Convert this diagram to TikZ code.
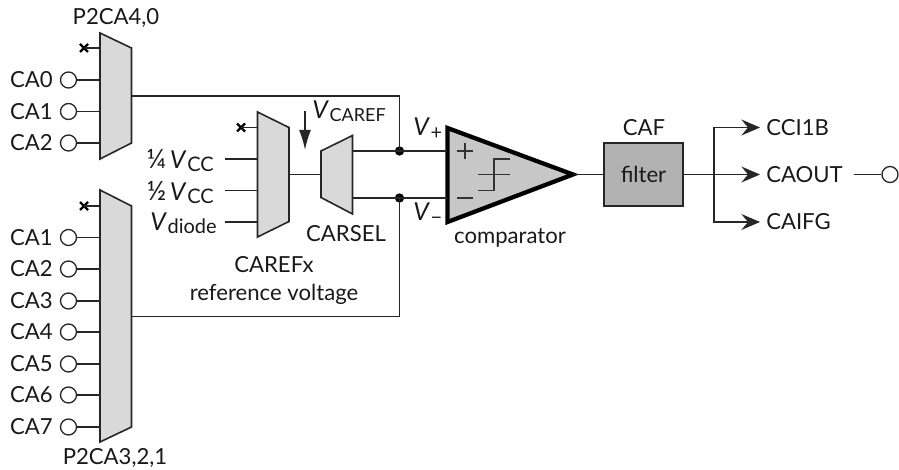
\documentclass[tikz,border=0pt]{standalone}
\usepackage{fontspec}
\setmainfont{Lato}
\usetikzlibrary{arrows.meta,shapes.misc}
\tikzset{
  wire/.style={line width=1.2pt,draw=black!85},
  mux/.style={line width=1.2pt,draw=black!85,fill=black!15,line join=miter},
  pinc/.style={circle,draw=black!85,line width=1pt,fill=white,minimum size=12pt,inner sep=0pt},
  nc/.style={cross out,draw=black,line width=1.8pt,minimum size=6pt,inner sep=0pt,outer sep=0pt},
  lbl/.style={font=\fontsize{16.6pt}{18pt}\selectfont,inner sep=0pt,text=black!90},
  arr/.style={wire,-{Stealth[length=14pt,width=12pt,inset=5pt]}},
  dot/.style={circle,fill=black,minimum size=7pt,inner sep=0pt},
}
\newcommand{\subtxt}[2][15pt]{\kern0.5pt{\fontsize{#1}{#1}\selectfont\raisebox{-0.3ex}{#2}}}
\newcommand{\bigv}{{\fontsize{18.5pt}{18.5pt}\selectfont\textit{V}}}
\begin{document}
\begin{tikzpicture}[x=0.75pt,y=-0.75pt]
\useasboundingbox (0,0) rectangle (899,470);
% multiplexers
\draw[mux] (100,33) -- (131.5,48) -- (131.5,143) -- (100,159) -- cycle;
\draw[mux] (100,190) -- (131.5,206) -- (131.5,427) -- (100,442) -- cycle;
\draw[mux] (257.5,112) -- (289,127.5) -- (289,221.5) -- (257.5,237) -- cycle;
\draw[mux] (321,151) -- (352.5,135.5) -- (352.5,214) -- (321,197.5) -- cycle;
% comparator and filter
\draw[line width=3.2pt,draw=black,fill=black!22,line join=miter] (447.5,128) -- (573,174.5) -- (447.5,222) -- cycle;
\node[draw=black!85,line width=1.2pt,fill=black!30,minimum width=59pt,minimum height=47pt,inner sep=0pt,lbl] (filter) at (643.5,174.5) {filter};
\coordinate (cmpout) at (573,174.5);
\draw[wire] (cmpout) -- (filter.west);
% comparator inner symbols
\draw[line width=0.8pt,draw=black!80] (457,151) -- (473,151) (465,143) -- (465,159) (457,198) -- (473,198);
\draw[line width=0.8pt,draw=black!80] (478,174.5) -- (510,174.5) (478,190.5) -- (494,190.5) -- (494,159) -- (510,159);
% mux 1 pins
\foreach \n/\y in {CA0/80,CA1/111.5,CA2/143}{
  \node[pinc] (a\n) at (68.5,\y) {};
  \node[lbl,anchor=east] at (53,\y) {\n};
  \coordinate (ai\n) at (100,\y);
  \draw[wire] (a\n) -- (ai\n);
}
% mux 2 pins
\foreach \n/\y in {CA1/237.5,CA2/269,CA3/301,CA4/332,CA5/364,CA6/395,CA7/427}{
  \node[pinc] (b\n) at (68.5,\y) {};
  \node[lbl,anchor=east] at (53,\y) {\n};
  \coordinate (bi\n) at (100,\y);
  \draw[wire] (b\n) -- (bi\n);
}
% no-connect stubs
\node[nc] (x1) at (84,48) {};
\node[nc] (x2) at (84,206) {};
\node[nc] (x3) at (241,127.5) {};
\coordinate (x1e) at (100,48);
\coordinate (x2e) at (100,206);
\coordinate (x3e) at (257.5,127.5);
\draw[wire] (x1.center) -- (x1e);
\draw[wire] (x2.center) -- (x2e);
\draw[wire] (x3.center) -- (x3e);
% reference inputs
\foreach \s/\y in {a/159,b/190.5,c/222}{
  \coordinate (r\s) at (225,\y);
  \coordinate (rr\s) at (257.5,\y);
  \draw[wire] (r\s) -- (rr\s);
}
\node[lbl,anchor=east] at (214,161) {{\fontsize{20pt}{20pt}\selectfont ¼}\,\bigv\subtxt{CC}};
\node[lbl,anchor=east] at (214,192.5) {{\fontsize{20pt}{20pt}\selectfont ½}\,\bigv\subtxt{CC}};
\node[lbl,anchor=east] at (217,223) {\bigv\subtxt{diode}};
% internal wiring
\coordinate (m3o) at (289,174.5);
\coordinate (m4i) at (321,174.5);
\draw[wire] (m3o) -- (m4i);
\node[dot] (jp) at (399.5,151) {};
\node[dot] (jm) at (399.5,198) {};
\coordinate (m4p) at (352.5,151);
\coordinate (m4m) at (352.5,198);
\coordinate (cp) at (447,151);
\coordinate (cm) at (447,198);
\draw[wire] (m4p) -- (jp.center) -- (cp);
\draw[wire] (m4m) -- (jm.center) -- (cm);
\coordinate (m1o) at (131.5,96);
\coordinate (m2o) at (131.5,316.5);
\draw[wire] (m1o) -- (399.5,96) -- (jp.center);
\draw[wire] (m2o) -- (399.5,316.5) -- (jm.center);
% V_CAREF arrow
\coordinate (vs) at (305,111);
\coordinate (ve) at (305,150);
\draw[wire,-{Latex[length=15pt,width=9pt]}] (vs) -- (ve);
\node[lbl,anchor=base west] at (312,119) {\bigv\subtxt[13.5pt]{CAREF}};
\node[lbl,anchor=base west] at (413,136) {\bigv\subtxt{+}};
\node[lbl,anchor=base west] at (413,221) {\bigv\subtxt{−}};
% outputs
\coordinate (tj) at (714,174.5);
\node[lbl,anchor=west] (o1) at (766,127.5) {CCI1B};
\node[lbl,anchor=west] (o2) at (766,174.5) {CAOUT};
\node[lbl,anchor=west] (o3) at (766,222) {CAIFG};
\coordinate (t1) at (760,127.5);
\coordinate (t2) at (760,174.5);
\coordinate (t3) at (760,222);
\draw[arr] (filter.east) -- (t2);
\draw[arr] (tj) -- (714,127.5) -- (t1);
\draw[arr] (tj) -- (714,222) -- (t3);
\node[pinc] (po) at (890,174.5) {};
\coordinate (ps) at (854,174.5);
\draw[wire] (ps) -- (po);
% labels
\node[lbl] at (116,18) {P2CA4,0};
\node[lbl] at (115,458) {P2CA3,2,1};
\node[lbl] at (346,234) {CARSEL};
\node[lbl] at (274,265) {CAREFx};
\node[lbl] at (274,294) {reference voltage};
\node[lbl] at (510,238) {comparator};
\node[lbl] at (644,128) {CAF};
\end{tikzpicture}
\end{document}
